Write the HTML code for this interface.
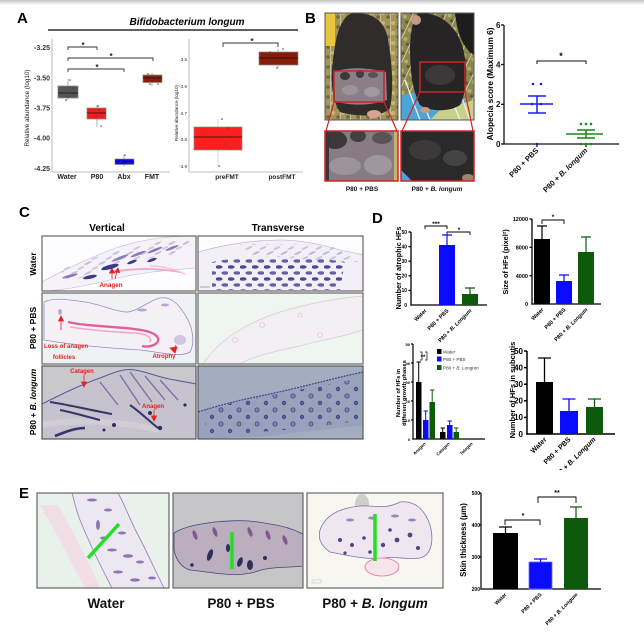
<!DOCTYPE html>
<html><head><meta charset="utf-8"><style>
html,body{margin:0;padding:0;background:#fff;}
svg{display:block;}
text{font-family:"Liberation Sans",Arial,sans-serif;}
</style></head><body>
<svg width="644" height="637" viewBox="0 0 644 637" xmlns="http://www.w3.org/2000/svg">
<defs>
<linearGradient id="topg" x1="0" y1="0" x2="0" y2="1"><stop offset="0" stop-color="#c4c4c4"/><stop offset="1" stop-color="#fff"/></linearGradient>
<clipPath id="cpB1"><rect x="325" y="13" width="73" height="107"/></clipPath>
<clipPath id="cpB2"><rect x="401" y="13" width="73" height="107"/></clipPath>
<clipPath id="cpB3"><rect x="325" y="131" width="73" height="50"/></clipPath>
<clipPath id="cpB4"><rect x="401" y="131" width="73" height="50"/></clipPath>
<clipPath id="c11"><rect x="42" y="236" width="154" height="55"/></clipPath>
<clipPath id="c12"><rect x="198" y="236" width="165" height="55"/></clipPath>
<clipPath id="c21"><rect x="42" y="293" width="154" height="71"/></clipPath>
<clipPath id="c22"><rect x="198" y="293" width="165" height="71"/></clipPath>
<clipPath id="c31"><rect x="42" y="366" width="154" height="73"/></clipPath>
<clipPath id="c32"><rect x="198" y="366" width="165" height="73"/></clipPath>
<clipPath id="e1"><rect x="37" y="493" width="132" height="95"/></clipPath>
<clipPath id="e2"><rect x="173" y="493" width="130" height="95"/></clipPath>
<clipPath id="e3"><rect x="307" y="493" width="136" height="95"/></clipPath>
<pattern id="pf1" width="12" height="12" patternUnits="userSpaceOnUse">
<ellipse cx="3" cy="3" rx="3.6" ry="1.7" fill="#4a4a96"/><ellipse cx="9" cy="9" rx="3.6" ry="1.7" fill="#6a5fa6"/></pattern>
<pattern id="pf1b" width="14" height="10" patternUnits="userSpaceOnUse">
<ellipse cx="4" cy="3" rx="4" ry="1.1" fill="#b4a6d0" transform="rotate(-25 4 3)"/><ellipse cx="11" cy="8" rx="4" ry="1.1" fill="#c4b8da" transform="rotate(-25 11 8)"/></pattern>
<pattern id="pf3" width="18" height="14" patternUnits="userSpaceOnUse">
<circle cx="5" cy="4" r="2.1" fill="#7f87b0" stroke="#3e4080" stroke-width="0.8"/><circle cx="14" cy="11" r="1.8" fill="#5a609a" stroke="#3e4080" stroke-width="0.8"/></pattern>
<pattern id="pcage" width="10" height="10" patternUnits="userSpaceOnUse">
<rect width="10" height="10" fill="#a39557"/><circle cx="3" cy="3" r="2" fill="#c9b86a"/><circle cx="8" cy="7" r="1.8" fill="#6f6a3a"/><line x1="0" y1="0" x2="0" y2="10" stroke="#e4e4dc" stroke-width="1"/></pattern>
<pattern id="pcage2" width="10" height="10" patternUnits="userSpaceOnUse" patternTransform="rotate(25)">
<rect width="10" height="10" fill="#8d8650"/><circle cx="4" cy="4" r="2" fill="#b8ac62"/><circle cx="8" cy="8" r="1.6" fill="#5f5a34"/><line x1="0" y1="0" x2="0" y2="10" stroke="#ecece4" stroke-width="1.3"/></pattern>
</defs>
<rect width="644" height="637" fill="#fff"/>
<rect width="644" height="5" fill="url(#topg)"/>

<!-- ================= PANEL A ================= -->
<text x="17" y="23" font-size="15" font-weight="bold">A</text>
<text x="187" y="25" font-size="10" font-weight="bold" font-style="italic" text-anchor="middle">Bifidobacterium longum</text>
<line x1="48" y1="30" x2="298" y2="30" stroke="#000" stroke-width="1.2"/>

<g stroke="#aaa" stroke-width="0.8" fill="none">
<line x1="52" y1="39" x2="52" y2="172"/><line x1="52" y1="172" x2="170" y2="172"/>
<line x1="189" y1="39" x2="189" y2="172"/><line x1="189" y1="172" x2="303" y2="172"/>
</g>
<g font-size="7" font-weight="bold" fill="#333" text-anchor="end">
<text x="50" y="50">-3.25</text><text x="50" y="80.5">-3.50</text><text x="50" y="110.5">-3.75</text><text x="50" y="140.5">-4.00</text><text x="50" y="171">-4.25</text>
</g>
<text transform="translate(29,108) rotate(-90)" font-size="6.3" fill="#222" text-anchor="middle">Relative abundance (log10)</text>
<g font-size="7" font-weight="bold" fill="#222" text-anchor="middle">
<text x="67" y="179">Water</text><text x="97" y="179">P80</text><text x="124" y="179">Abx</text><text x="152" y="179">FMT</text>
<text x="227" y="179" font-size="6.5">preFMT</text><text x="282" y="179" font-size="6.5">postFMT</text>
</g>
<g stroke="#333" stroke-width="0.9" fill="none">
<path d="M68,50 V47 H97 V50"/><path d="M68,61 V58 H153 V61"/><path d="M68,72 V69 H124 V72"/>
<path d="M223,47 V43 H278 V47"/>
</g>
<g font-size="8" font-weight="bold" text-anchor="middle" fill="#222">
<text x="83" y="48">*</text><text x="111" y="59">*</text><text x="97" y="70">*</text><text x="252" y="44">*</text>
</g>
<g stroke="#888" stroke-width="0.7">
<line x1="68" y1="79" x2="68" y2="100"/>
<rect x="58" y="86" width="20" height="12" fill="#555"/>
<line x1="97" y1="105" x2="97" y2="127"/>
<rect x="87" y="108" width="19" height="11" fill="#f21c1c"/>
<line x1="124" y1="155" x2="124" y2="166"/>
<rect x="115" y="159" width="19" height="5.5" fill="#0a0ae8"/>
<line x1="152" y1="73" x2="152" y2="86"/>
<rect x="143" y="75" width="19" height="7.5" fill="#8a1d08"/>
<line x1="218" y1="119" x2="218" y2="166" stroke="#ccc"/>
<rect x="194" y="127" width="48" height="23" fill="#ff1e1e"/>
<line x1="278" y1="49" x2="278" y2="68"/>
<rect x="259" y="52" width="39" height="13" fill="#861c08"/>
</g>
<g stroke="#111" stroke-width="0.8">
<line x1="58" y1="93" x2="78" y2="93"/><line x1="87" y1="113" x2="106" y2="113"/><line x1="115" y1="161.5" x2="134" y2="161.5"/><line x1="143" y1="78" x2="162" y2="78"/>
<line x1="194" y1="137" x2="242" y2="137"/><line x1="259" y1="58" x2="298" y2="58"/>
</g>
<g fill="#444">
<circle cx="70" cy="80" r="0.8"/><circle cx="73" cy="88" r="0.8"/><circle cx="67" cy="97" r="0.8"/><circle cx="66" cy="100" r="0.8"/>
<circle cx="98" cy="106" r="0.8"/><circle cx="99" cy="110" r="0.8"/><circle cx="96" cy="117" r="0.8"/><circle cx="101" cy="126" r="0.8"/>
<circle cx="125" cy="155" r="0.8"/><circle cx="121" cy="162" r="0.8"/><circle cx="128" cy="163" r="0.8"/>
<circle cx="148" cy="74" r="0.8"/><circle cx="156" cy="77" r="0.8"/><circle cx="150" cy="84" r="0.8"/><circle cx="158" cy="84" r="0.8"/>
<circle cx="222" cy="119" r="0.8"/><circle cx="228" cy="128" r="0.8"/><circle cx="226" cy="144" r="0.8"/><circle cx="219" cy="166" r="0.8"/>
<circle cx="270" cy="52" r="0.8"/><circle cx="283" cy="49" r="0.8"/><circle cx="276" cy="63" r="0.8"/><circle cx="277" cy="68" r="0.8"/>
</g>
<g font-size="4.6" fill="#333" text-anchor="end">
<text x="187" y="61">-3.5</text><text x="187" y="88">-3.6</text><text x="187" y="115">-3.7</text><text x="187" y="141">-3.8</text><text x="187" y="168">-3.9</text>
</g>
<text transform="translate(178,113) rotate(-90)" font-size="4.6" fill="#222" text-anchor="middle">Relative abundance (log10)</text>

<!-- ================= PANEL B ================= -->
<text x="305" y="23" font-size="15" font-weight="bold">B</text>
<g clip-path="url(#cpB1)">
<rect x="325" y="13" width="73" height="107" fill="url(#pcage)"/>
<rect x="325" y="13" width="10" height="33" fill="#e8c63e"/>
<path d="M352,13 C372,12 385,20 388,40 C392,60 394,90 390,108 C385,116 360,118 340,112 C332,100 330,80 333,60 C336,35 340,18 352,13 Z" fill="#2f2c2b"/>
<path d="M334,72 C350,66 370,68 386,72 L387,100 C370,106 350,106 335,101 Z" fill="#8a7f87"/>
<ellipse cx="345" cy="76" rx="5" ry="4" fill="#3d3838"/><ellipse cx="360" cy="74" rx="4" ry="4" fill="#443e3f"/><ellipse cx="373" cy="75" rx="5" ry="3" fill="#5a5255"/>
<ellipse cx="350" cy="90" rx="8" ry="5" fill="#9d939a"/><ellipse cx="372" cy="92" rx="8" ry="5" fill="#a1989e"/>
<ellipse cx="374" cy="114" rx="7" ry="4" fill="#d6a58f"/>
</g>
<rect x="325" y="13" width="73" height="107" fill="none" stroke="#555" stroke-width="1"/>
<rect x="334" y="71" width="50" height="31" fill="none" stroke="#c8262a" stroke-width="1.5"/>
<g clip-path="url(#cpB2)">
<rect x="401" y="13" width="73" height="107" fill="url(#pcage2)"/>
<path d="M401,95 L445,88 L474,105 L474,120 L401,120 Z" fill="#4ea4d6"/>
<path d="M440,110 L474,100 L474,120 L430,120 Z" fill="#c9d08c"/>
<g stroke="#eef0ea" stroke-width="1.3"><line x1="405" y1="80" x2="420" y2="120"/><line x1="414" y1="80" x2="430" y2="120"/><line x1="452" y1="100" x2="460" y2="120"/><line x1="462" y1="98" x2="470" y2="120"/></g>
<path d="M455,13 L474,13 L474,55 C466,50 458,40 455,13 Z" fill="#1e1d1d"/>
<path d="M418,13 C440,12 455,25 462,45 C468,65 468,90 460,105 C450,112 430,112 420,105 C412,90 410,70 410,45 C411,30 413,18 418,13 Z" fill="#262424"/>
<ellipse cx="440" cy="75" rx="15" ry="10" fill="#3a3838"/>
<ellipse cx="416" cy="20" rx="5" ry="5" fill="#c99a80"/>
<ellipse cx="425" cy="110" rx="5" ry="3" fill="#c99a80"/>
</g>
<rect x="401" y="13" width="73" height="107" fill="none" stroke="#555" stroke-width="1"/>
<rect x="420" y="62" width="45" height="30" fill="none" stroke="#c8262a" stroke-width="1.5"/>
<g stroke="#c8262a" stroke-width="1.2"><line x1="334" y1="102" x2="326" y2="131"/><line x1="384" y1="102" x2="397" y2="131"/><line x1="420" y1="92" x2="402" y2="131"/><line x1="465" y1="92" x2="473" y2="131"/></g>
<g clip-path="url(#cpB3)">
<rect x="325" y="131" width="73" height="50" fill="#877c84"/>
<ellipse cx="335" cy="140" rx="12" ry="9" fill="#3d3838"/><ellipse cx="358" cy="136" rx="8" ry="6" fill="#443e40"/><ellipse cx="382" cy="138" rx="10" ry="6" fill="#5a5356"/>
<ellipse cx="345" cy="166" rx="16" ry="9" fill="#9c929a"/><ellipse cx="378" cy="165" rx="14" ry="10" fill="#a0979d"/>
<rect x="325" y="131" width="4" height="50" fill="#3a3535"/><rect x="394" y="131" width="4" height="50" fill="#c7b46a"/>
</g>
<rect x="325" y="131" width="73" height="50" fill="none" stroke="#c8262a" stroke-width="1.5"/>
<g clip-path="url(#cpB4)">
<rect x="401" y="131" width="73" height="50" fill="#2b2a2a"/>
<ellipse cx="425" cy="150" rx="16" ry="10" fill="#3b3939"/><ellipse cx="455" cy="158" rx="12" ry="8" fill="#454242"/>
<path d="M401,170 L412,181 L401,181 Z" fill="#4ea4d6"/>
<ellipse cx="468" cy="178" rx="6" ry="4" fill="#a6806e"/>
</g>
<rect x="401" y="131" width="73" height="50" fill="none" stroke="#c8262a" stroke-width="1.5"/>
<g font-size="6.5" font-weight="bold" text-anchor="middle" fill="#111">
<text x="362" y="191">P80 + PBS</text><text x="437" y="191">P80 + <tspan font-style="italic">B. longum</tspan></text>
</g>
<!-- scatter -->
<g stroke="#111" stroke-width="1.3" fill="none">
<line x1="504" y1="25" x2="504" y2="144.5"/><line x1="504" y1="144" x2="619" y2="144"/>
<line x1="501" y1="25" x2="504" y2="25"/><line x1="501" y1="64.5" x2="504" y2="64.5"/><line x1="501" y1="104.3" x2="504" y2="104.3"/><line x1="501" y1="144" x2="504" y2="144"/>
<line x1="537" y1="144" x2="537" y2="147"/><line x1="586" y1="144" x2="586" y2="147"/>
<path d="M537,64 V61 H586 V64" stroke-width="1"/>
</g>
<text x="561" y="59" font-size="9" font-weight="bold" text-anchor="middle">*</text>
<g font-size="8" font-weight="bold" text-anchor="end" fill="#111">
<text x="500.5" y="28">6</text><text x="500.5" y="67.5">4</text><text x="500.5" y="107">2</text><text x="500.5" y="147">0</text>
</g>
<text transform="translate(493,84) rotate(-90)" font-size="8.4" font-weight="bold" text-anchor="middle">Alopecia score (Maximum 6)</text>
<g stroke="#1a1aff" stroke-width="1.5"><line x1="520" y1="104" x2="553" y2="104"/><line x1="537" y1="96" x2="537" y2="113"/><line x1="528" y1="96" x2="546" y2="96"/><line x1="528" y1="113" x2="546" y2="113"/></g>
<g fill="#1a1aff"><circle cx="533" cy="84" r="1.3"/><circle cx="541" cy="84" r="1.3"/><circle cx="532" cy="104" r="1.3"/><circle cx="541" cy="104" r="1.3"/><circle cx="537" cy="144" r="1.3"/></g>
<g stroke="#158a15" stroke-width="1.5"><line x1="566" y1="134" x2="603" y2="134"/><line x1="586" y1="130" x2="586" y2="138"/><line x1="577" y1="130" x2="595" y2="130"/><line x1="577" y1="138" x2="595" y2="138"/></g>
<g fill="#158a15"><circle cx="581" cy="124" r="1.3"/><circle cx="586" cy="124" r="1.3"/><circle cx="591" cy="124" r="1.3"/><circle cx="581" cy="144" r="1.3"/><circle cx="586" cy="144" r="1.3"/><circle cx="591" cy="144" r="1.3"/></g>
<g font-size="7.6" font-weight="bold" text-anchor="end" fill="#111">
<text transform="translate(539,151) rotate(-45)">P80 + PBS</text>
<text transform="translate(588,151) rotate(-45)">P80 + <tspan font-style="italic">B. longum</tspan></text>
</g>

<!-- ================= PANEL C ================= -->
<text x="19" y="217" font-size="15" font-weight="bold">C</text>
<text x="107" y="231" font-size="10" font-weight="bold" text-anchor="middle">Vertical</text>
<text x="278" y="231" font-size="10" font-weight="bold" text-anchor="middle">Transverse</text>
<g font-size="8.5" font-weight="bold" text-anchor="middle">
<text transform="translate(36,264) rotate(-90)">Water</text>
<text transform="translate(36,328) rotate(-90)">P80 + PBS</text>
<text transform="translate(36,402) rotate(-90)">P80 + <tspan font-style="italic">B. longum</tspan></text>
</g>
<g clip-path="url(#c11)">
<rect x="42" y="236" width="154" height="55" fill="#fdfcfe"/>
<path d="M42,282 C60,272 80,262 110,250 C135,241 160,236 196,236 L196,268 C170,270 140,272 110,280 C85,286 60,291 42,291 Z" fill="#f6f2f9" stroke="#c4b6d8" stroke-width="0.6"/>
<path d="M60,270 C90,258 120,248 170,240 L190,240 L185,252 C150,258 110,266 70,282 Z" fill="url(#pf1b)" opacity="0.7"/>
<g fill="#8a7cb8">
<ellipse cx="120" cy="258" rx="9" ry="1.4" transform="rotate(-22 120 258)"/>
<ellipse cx="138" cy="254" rx="8" ry="1.3" transform="rotate(-22 138 254)"/>
<ellipse cx="155" cy="250" rx="8" ry="1.3" transform="rotate(-22 155 250)"/>
<ellipse cx="172" cy="248" rx="7" ry="1.3" transform="rotate(-22 172 248)"/>
<ellipse cx="70" cy="276" rx="8" ry="1.4" transform="rotate(-15 70 276)"/>
</g>
<g fill="#3a3a8c">
<ellipse cx="90" cy="277" rx="7" ry="1.8" transform="rotate(-12 90 277)"/>
<ellipse cx="110" cy="267" rx="9" ry="2.2" transform="rotate(-15 110 267)"/>
<ellipse cx="132" cy="262" rx="5" ry="1.5" transform="rotate(-20 132 262)"/>
<ellipse cx="152" cy="260" rx="5" ry="1.4" transform="rotate(-20 152 260)"/>
</g>
<path d="M112,272 C135,268 155,268 180,272" stroke="#f2a4c6" stroke-width="1.8" fill="none"/>
<path d="M150,266 C165,266 175,270 185,274" stroke="#f5bcd4" stroke-width="1.3" fill="none"/>
<g fill="#e8201e" stroke="#e8201e" stroke-width="0.8"><line x1="112" y1="279" x2="112" y2="272"/><line x1="115" y1="279" x2="117" y2="271"/><path d="M109.5,273 L112,268.5 L114.5,273 Z"/><path d="M115,272 L118,268 L119.5,272.5 Z"/></g>
<text x="111" y="287" font-size="6.3" font-weight="bold" fill="#e8201e" text-anchor="middle">Anagen</text>
</g>
<rect x="42" y="236" width="154" height="55" fill="none" stroke="#666" stroke-width="1.2"/>
<g clip-path="url(#c12)">
<rect x="198" y="236" width="165" height="55" fill="#fcfbfd"/>
<path d="M198,252 C220,246 250,240 280,240 C300,240 320,244 340,250 C350,252 360,254 363,255 L363,291 L198,291 Z" fill="#f3eff7" stroke="#b8a8d4" stroke-width="0.6"/>
<path d="M240,244 L330,245 L360,262 L340,262 L250,255 Z" fill="url(#pf1b)" opacity="0.8"/>
<path d="M212,262 C240,256 300,254 345,262 L340,290 L212,290 Z" fill="url(#pf1)"/>
<rect x="200" y="286" width="10" height="2" fill="#ccc"/>
</g>
<rect x="198" y="236" width="165" height="55" fill="none" stroke="#666" stroke-width="1.2"/>
<g clip-path="url(#c21)">
<rect x="42" y="293" width="154" height="71" fill="#eef2f4"/>
<path d="M44,302 C55,297 70,300 85,302 C100,304 115,312 128,312 C140,310 150,300 160,298 C172,296 180,305 188,320 C194,332 194,345 190,352 C180,358 160,352 140,350 C110,348 80,346 44,340 Z" fill="#f5f0f5" stroke="#9a8cc0" stroke-width="0.8"/>
<path d="M68,322 C80,325 100,326 125,328 C145,330 155,332 158,338 C160,344 150,348 142,346" stroke="#e0609c" stroke-width="2.4" fill="none"/>
<path d="M70,327 C90,330 110,332 135,333 C148,334 152,338 150,342" stroke="#f0a8c8" stroke-width="1.5" fill="none"/>
<g fill="#b8a8d0"><ellipse cx="60" cy="312" rx="2" ry="3"/><ellipse cx="142" cy="310" rx="5" ry="1.5"/><ellipse cx="165" cy="305" rx="4" ry="1.5"/><ellipse cx="180" cy="340" rx="6" ry="5" opacity="0.6"/></g>
<g fill="#e8201e" stroke="#e8201e" stroke-width="0.8"><line x1="61" y1="330" x2="61" y2="320"/><path d="M58.5,321 L61,316 L63.5,321 Z"/><line x1="176" y1="345" x2="174" y2="350"/><path d="M170,348 L175,353 L177,347 Z"/></g>
<g font-size="6" font-weight="bold" fill="#e8201e" text-anchor="middle"><text x="66" y="348">Loss of anagen</text><text x="64" y="359">follicles</text><text x="164" y="358">Atrophy</text></g>
</g>
<rect x="42" y="293" width="154" height="71" fill="none" stroke="#666" stroke-width="1.2"/>
<g clip-path="url(#c22)">
<rect x="198" y="293" width="165" height="71" fill="#eef6ef"/>
<path d="M203,364 C215,345 240,325 280,312 C310,303 340,298 363,296 L363,330 C340,338 320,340 300,346 C270,352 250,358 240,364 Z" fill="#f4eff2" stroke="#d8c8dc" stroke-width="0.7"/>
<g fill="none" stroke="#d8c4d8" stroke-width="0.6"><circle cx="235" cy="340" r="2.5"/><circle cx="262" cy="325" r="2.5"/><circle cx="300" cy="315" r="2"/><circle cx="320" cy="335" r="2.5"/></g>
</g>
<rect x="198" y="293" width="165" height="71" fill="none" stroke="#666" stroke-width="1.2"/>
<g clip-path="url(#c31)">
<rect x="42" y="366" width="154" height="73" fill="#c9c9cd"/>
<path d="M42,404 C60,395 80,385 100,378 C115,372 125,368 135,370 C148,372 160,378 175,380 C185,382 192,383 196,384 L196,439 L42,439 Z" fill="#c6c2ce" stroke="#58589a" stroke-width="1"/>
<path d="M42,425 C80,418 120,422 160,430" stroke="#d8d2dc" stroke-width="6" fill="none" opacity="0.6"/>
<g stroke="#6a6098" stroke-width="1.4" fill="none" opacity="0.8">
<line x1="120" y1="375" x2="140" y2="405"/><line x1="130" y1="372" x2="152" y2="402"/><line x1="145" y1="376" x2="165" y2="400"/><line x1="160" y1="380" x2="178" y2="400"/><line x1="100" y1="382" x2="118" y2="405"/>
</g>
<g stroke="#35356a" stroke-width="2" fill="none">
<path d="M50,402 C70,405 90,410 112,414"/><path d="M60,410 C75,413 88,417 100,420"/><path d="M130,405 C140,412 148,420 158,428"/>
<path d="M55,436 C65,432 75,428 85,428" stroke-width="2.6"/>
</g>
<g fill="#2e2e60"><circle cx="150" cy="413" r="2"/><circle cx="160" cy="428" r="2.2"/><circle cx="114" cy="425" r="2"/><circle cx="104" cy="430" r="1.5"/><circle cx="185" cy="405" r="1.6"/></g>
<g fill="#e8201e" stroke="#e8201e" stroke-width="0.8"><line x1="84" y1="375" x2="84" y2="383"/><path d="M81.5,382 L84,387 L86.5,382 Z"/><line x1="154" y1="410" x2="154" y2="417"/><path d="M151.5,416 L154,421 L156.5,416 Z"/></g>
<g font-size="6" font-weight="bold" fill="#e8201e" text-anchor="middle"><text x="82" y="373">Catagen</text><text x="153" y="408">Anagen</text></g>
</g>
<rect x="42" y="366" width="154" height="73" fill="none" stroke="#555" stroke-width="1.2"/>
<g clip-path="url(#c32)">
<rect x="198" y="366" width="165" height="73" fill="#a3adc0"/>
<path d="M198,412 C220,405 240,400 260,396 C290,390 320,382 345,376 L363,372 L363,425 C340,428 300,432 270,436 L198,439 Z" fill="#98a2bd"/>
<path d="M198,412 C220,405 240,400 260,396 C290,390 320,382 345,376 L363,372" stroke="#3e4490" stroke-width="1.2" fill="none" stroke-dasharray="2 1"/>
<path d="M205,410 C240,400 300,390 360,378 L360,420 C320,428 260,432 205,436 Z" fill="url(#pf3)"/>
</g>
<rect x="198" y="366" width="165" height="73" fill="none" stroke="#555" stroke-width="1.2"/>

<!-- ================= PANEL D ================= -->
<text x="372" y="223" font-size="15" font-weight="bold">D</text>
<g stroke="#000" stroke-width="1.3" fill="none">
<line x1="411" y1="232" x2="411" y2="305.6"/><line x1="410.4" y1="305" x2="487" y2="305"/>
<line x1="408.5" y1="232" x2="411" y2="232"/><line x1="408.5" y1="246.6" x2="411" y2="246.6"/><line x1="408.5" y1="261.2" x2="411" y2="261.2"/><line x1="408.5" y1="275.8" x2="411" y2="275.8"/><line x1="408.5" y1="290.4" x2="411" y2="290.4"/>
<path d="M425,229 V226 H447 V229" stroke-width="0.9"/><path d="M447,235 V232 H470 V235" stroke-width="0.9"/>
</g>
<g font-size="5" font-weight="bold" text-anchor="end"><text x="407" y="234">50</text><text x="407" y="248.5">40</text><text x="407" y="263">30</text><text x="407" y="277.5">20</text><text x="407" y="292">10</text><text x="407" y="307">0</text></g>
<g font-size="6.5" font-weight="bold" text-anchor="middle"><text x="436" y="226">***</text><text x="459" y="232">*</text></g>
<rect x="439" y="245" width="16" height="60" fill="#0a0aff"/>
<path d="M447,245 V235 M442,235 H452" stroke="#0a0aff" stroke-width="1.2"/>
<rect x="462" y="294" width="16" height="11" fill="#0d5a0d"/>
<path d="M470,294 V288 M465,288 H475" stroke="#0d5a0d" stroke-width="1.2"/>
<text transform="translate(401,268) rotate(-90)" font-size="7.3" font-weight="bold" text-anchor="middle">Number of atrophic HFs</text>
<g font-size="5.5" font-weight="bold" text-anchor="end">
<text transform="translate(427,311) rotate(-45)">Water</text>
<text transform="translate(449,311) rotate(-45)">P80 + PBS</text>
<text transform="translate(472,311) rotate(-45)">P80 + <tspan font-style="italic">B. Longum</tspan></text>
</g>
<g stroke="#000" stroke-width="1.3" fill="none">
<line x1="532" y1="219" x2="532" y2="304.6"/><line x1="531.4" y1="304" x2="601" y2="304"/>
<line x1="529.5" y1="219" x2="532" y2="219"/><line x1="529.5" y1="247.3" x2="532" y2="247.3"/><line x1="529.5" y1="275.7" x2="532" y2="275.7"/>
<path d="M542,224 V220 H564 V224" stroke-width="0.9"/>
</g>
<g font-size="5.5" font-weight="bold" text-anchor="end"><text x="528" y="221">12000</text><text x="528" y="249.5">8000</text><text x="528" y="278">4000</text><text x="528" y="306">0</text></g>
<text x="553" y="219" font-size="6.5" font-weight="bold" text-anchor="middle">*</text>
<rect x="534" y="239" width="16" height="65" fill="#000"/>
<path d="M542,239 V226 M537,226 H547" stroke="#000" stroke-width="1.2"/>
<rect x="556" y="281" width="16" height="23" fill="#0a0aff"/>
<path d="M564,281 V275 M559,275 H569" stroke="#0a0aff" stroke-width="1.2"/>
<rect x="578" y="252" width="16" height="52" fill="#0d5a0d"/>
<path d="M586,252 V237 M581,237 H591" stroke="#0d5a0d" stroke-width="1.2"/>
<text transform="translate(508,262) rotate(-90)" font-size="7.3" font-weight="bold" text-anchor="middle">Size of HFs (pixel²)</text>
<g font-size="5.5" font-weight="bold" text-anchor="end">
<text transform="translate(544,310) rotate(-45)">Water</text>
<text transform="translate(566,310) rotate(-45)">P80 + PBS</text>
<text transform="translate(588,310) rotate(-45)">P80 + <tspan font-style="italic">B. Longum</tspan></text>
</g>
<g stroke="#000" stroke-width="1.2" fill="none">
<line x1="413" y1="344" x2="413" y2="439.6"/><line x1="412.4" y1="439" x2="485" y2="439"/>
<line x1="411" y1="344" x2="413" y2="344"/><line x1="411" y1="363" x2="413" y2="363"/><line x1="411" y1="382" x2="413" y2="382"/><line x1="411" y1="401" x2="413" y2="401"/><line x1="411" y1="420" x2="413" y2="420"/>
<path d="M420,352 H422 V360 H420" stroke-width="0.7"/><path d="M425,352 H427 V360 H425" stroke-width="0.7"/>
</g>
<g font-size="4" font-weight="bold" text-anchor="end"><text x="410" y="346">50</text><text x="410" y="365">40</text><text x="410" y="384">30</text><text x="410" y="403">20</text><text x="410" y="422">10</text><text x="410" y="441">0</text></g>
<text x="423" y="359" font-size="6" font-weight="bold" text-anchor="middle">**</text>
<rect x="416" y="382" width="5.5" height="57" fill="#000"/><path d="M418.7,382 V362 M416.5,362 H421" stroke="#000" stroke-width="1"/>
<rect x="423" y="420" width="5.5" height="19" fill="#0a0aff"/><path d="M425.7,420 V411 M423.5,411 H428" stroke="#0a0aff" stroke-width="1"/>
<rect x="429.5" y="402" width="5.5" height="37" fill="#0d5a0d"/><path d="M432.2,402 V390 M430,390 H434.5" stroke="#0d5a0d" stroke-width="1"/>
<rect x="440" y="432" width="5.5" height="7" fill="#000"/><path d="M442.7,432 V428 M440.5,428 H445" stroke="#000" stroke-width="1"/>
<rect x="447" y="425" width="5.5" height="14" fill="#0a0aff"/><path d="M449.7,425 V421 M447.5,421 H452" stroke="#0a0aff" stroke-width="1"/>
<rect x="453.5" y="432" width="5.5" height="7" fill="#0d5a0d"/><path d="M456.2,432 V428 M454,428 H458.5" stroke="#0d5a0d" stroke-width="1"/>
<rect x="437" y="349" width="4.5" height="5" fill="#000"/><rect x="437" y="356.5" width="4.5" height="5" fill="#0a0aff"/><rect x="437" y="365" width="4.5" height="5" fill="#0d5a0d"/>
<g font-size="4.6" fill="#333"><text x="443" y="353.5" font-style="italic">Water</text><text x="443" y="361">P80 + PBS</text><text x="443" y="369.5">P80 + <tspan font-style="italic">B. Longum</tspan></text></g>
<g font-size="5.8" font-weight="bold" text-anchor="middle">
<text transform="translate(400,393) rotate(-90)">Number of HFs in</text>
<text transform="translate(406,393) rotate(-90)">different growth phases</text>
</g>
<g font-size="4.3" font-weight="bold" text-anchor="end">
<text transform="translate(426,444) rotate(-45)">Anagen</text>
<text transform="translate(450,444) rotate(-45)">Catagen</text>
<text transform="translate(473,444) rotate(-45)">Telogen</text>
</g>
<g stroke="#000" stroke-width="1.5" fill="none">
<line x1="527" y1="351" x2="527" y2="434.7"/><line x1="526.3" y1="434" x2="615" y2="434"/>
<line x1="524" y1="351" x2="527" y2="351"/><line x1="524" y1="367.6" x2="527" y2="367.6"/><line x1="524" y1="384.2" x2="527" y2="384.2"/><line x1="524" y1="400.8" x2="527" y2="400.8"/><line x1="524" y1="417.4" x2="527" y2="417.4"/>
</g>
<g font-size="8" font-weight="bold" text-anchor="end"><text x="523" y="354">50</text><text x="523" y="370.5">40</text><text x="523" y="387">30</text><text x="523" y="403.5">20</text><text x="523" y="420">10</text><text x="523" y="437">0</text></g>
<rect x="536" y="382" width="17" height="52" fill="#000"/><path d="M544.5,382 V358 M538,358 H551" stroke="#000" stroke-width="1.3"/>
<rect x="560" y="411" width="18" height="23" fill="#0a0aff"/><path d="M569,411 V399 M562.5,399 H575.5" stroke="#0a0aff" stroke-width="1.3"/>
<rect x="586" y="407" width="17" height="27" fill="#0d5a0d"/><path d="M594.5,407 V399 M588,399 H601" stroke="#0d5a0d" stroke-width="1.3"/>
<text transform="translate(515,390) rotate(-90)" font-size="7.6" font-weight="bold" text-anchor="middle">Number of HFs in subcutis</text>
<g font-size="7" font-weight="bold" text-anchor="end">
<text transform="translate(547,440) rotate(-45)">Water</text>
<text transform="translate(571,440) rotate(-45)">P80 + PBS</text>
<text transform="translate(596,440) rotate(-45)">P80 + <tspan font-style="italic">B. Longum</tspan></text>
</g>
<rect x="540" y="470" width="60" height="10" fill="#fff"/>

<!-- ================= PANEL E ================= -->
<text x="19" y="498" font-size="15" font-weight="bold">E</text>
<g clip-path="url(#e1)">
<rect x="37" y="493" width="132" height="95" fill="#e8f1ea"/>
<path d="M40,505 C55,530 70,560 85,588 L100,588 C88,560 72,530 58,505 Z" fill="#f1dde6"/>
<path d="M72,493 L118,493 C125,505 130,520 138,535 C146,550 154,568 164,588 L112,588 C100,565 90,545 80,520 C76,510 74,500 72,493 Z" fill="#ede7f1" stroke="#8c7cbc" stroke-width="0.8"/>
<g fill="#8878b4">
<ellipse cx="92" cy="500" rx="5" ry="1.5"/><ellipse cx="108" cy="510" rx="4" ry="1.5"/><ellipse cx="98" cy="525" rx="2" ry="5"/><ellipse cx="104" cy="538" rx="4" ry="1.5"/><ellipse cx="122" cy="533" rx="4" ry="1.5"/><ellipse cx="112" cy="550" rx="5" ry="1.5"/><ellipse cx="128" cy="556" rx="5" ry="1.8"/><ellipse cx="140" cy="562" rx="4" ry="1.5"/><ellipse cx="118" cy="572" rx="5" ry="1.5"/><ellipse cx="135" cy="580" rx="5" ry="1.6"/><ellipse cx="152" cy="578" rx="4" ry="1.5"/>
</g>
<line x1="88" y1="558" x2="119" y2="524" stroke="#22e022" stroke-width="3.5"/>
</g>
<rect x="37" y="493" width="132" height="95" fill="none" stroke="#666" stroke-width="1.2"/>
<g clip-path="url(#e2)">
<rect x="173" y="493" width="130" height="95" fill="#c6c6c8"/>
<path d="M174,533 C185,526 200,524 215,522 C235,520 250,520 270,524 C285,526 295,530 303,534 L303,566 C290,568 270,566 255,572 C235,578 210,572 190,570 C182,568 176,560 174,550 Z" fill="#bbaebf" stroke="#4a4478" stroke-width="0.8"/>
<g fill="#7e5a8c"><ellipse cx="195" cy="535" rx="2" ry="5" transform="rotate(-20 195 535)"/><ellipse cx="215" cy="532" rx="2" ry="5" transform="rotate(-20 215 532)"/><ellipse cx="250" cy="532" rx="2" ry="5" transform="rotate(-20 250 532)"/><ellipse cx="268" cy="535" rx="2" ry="5" transform="rotate(-20 268 535)"/><ellipse cx="285" cy="540" rx="2" ry="5" transform="rotate(-20 285 540)"/></g>
<g fill="#2f2f5a"><ellipse cx="210" cy="555" rx="2.5" ry="6" transform="rotate(20 210 555)"/><ellipse cx="240" cy="562" rx="2.5" ry="5" transform="rotate(20 240 562)"/><ellipse cx="250" cy="565" rx="3" ry="5"/><circle cx="265" cy="558" r="2"/><circle cx="192" cy="565" r="1.8"/><ellipse cx="228" cy="548" rx="2" ry="4"/></g>
<line x1="232" y1="532" x2="232" y2="569" stroke="#22e022" stroke-width="3.5"/>
</g>
<rect x="173" y="493" width="130" height="95" fill="none" stroke="#666" stroke-width="1.2"/>
<g clip-path="url(#e3)">
<rect x="307" y="493" width="136" height="95" fill="#f8f6f1"/>
<ellipse cx="362" cy="504" rx="7" ry="10" fill="#ccd0c8"/>
<path d="M320,530 C325,515 340,508 360,506 C375,505 385,510 400,502 C415,500 425,510 430,525 C434,540 432,555 420,558 C405,560 395,556 385,558 C365,560 345,555 330,552 C320,545 318,538 320,530 Z" fill="#efe6ef" stroke="#7c70b0" stroke-width="0.8"/>
<g fill="#4a4a84"><circle cx="340" cy="540" r="2"/><circle cx="352" cy="545" r="2"/><circle cx="364" cy="538" r="1.8"/><circle cx="383" cy="545" r="2.2"/><circle cx="397" cy="540" r="2.4"/><circle cx="410" cy="535" r="2.4"/><circle cx="390" cy="530" r="1.8"/><circle cx="345" cy="553" r="1.6"/><circle cx="370" cy="552" r="1.8"/><circle cx="418" cy="548" r="2"/></g>
<g fill="#9a88b8"><ellipse cx="350" cy="520" rx="4" ry="1.5"/><ellipse cx="372" cy="518" rx="4" ry="1.5"/><ellipse cx="395" cy="516" rx="4" ry="1.5"/><ellipse cx="412" cy="520" rx="4" ry="1.5"/></g>
<ellipse cx="382" cy="567" rx="17" ry="9" fill="#f8e4ec" stroke="#e07aa0" stroke-width="0.8"/>
<rect x="312" y="580" width="9" height="3" fill="none" stroke="#bbb" stroke-width="0.5"/>
<line x1="375" y1="514" x2="375" y2="561" stroke="#22e022" stroke-width="3.5"/>
</g>
<rect x="307" y="493" width="136" height="95" fill="none" stroke="#666" stroke-width="1.2"/>
<g font-size="13.5" font-weight="bold" text-anchor="middle" fill="#111">
<text x="106" y="608">Water</text><text x="241" y="608">P80 + PBS</text><text x="375" y="608">P80 + <tspan font-style="italic">B. longum</tspan></text>
</g>
<g stroke="#000" stroke-width="1.2" fill="none">
<line x1="481" y1="493" x2="481" y2="589.6"/><line x1="480.4" y1="589" x2="601" y2="589"/>
<line x1="479" y1="493" x2="481" y2="493"/><line x1="479" y1="525" x2="481" y2="525"/><line x1="479" y1="557" x2="481" y2="557"/>
<path d="M505,525 V520 H540 V525" stroke-width="0.9"/><path d="M538,503 V497 H576 V503" stroke-width="0.9"/>
</g>
<g font-size="5" font-weight="bold" text-anchor="end"><text x="480" y="495">500</text><text x="480" y="527">400</text><text x="480" y="559">300</text><text x="480" y="591">200</text></g>
<g font-size="7" font-weight="bold" text-anchor="middle"><text x="523" y="518">*</text><text x="557" y="495">**</text></g>
<rect x="493" y="533" width="25" height="56" fill="#000"/><path d="M505.5,533 V527 M499,527 H512" stroke="#000" stroke-width="1.2"/>
<rect x="529" y="562" width="23" height="27" fill="#0a0aff" stroke="#6a6aff" stroke-width="0.8"/><path d="M540.5,562 V559 M534,559 H547" stroke="#0a0aff" stroke-width="1.2"/>
<rect x="564" y="518" width="24" height="71" fill="#0d5a0d"/><path d="M576,518 V507 M570,507 H582" stroke="#0d5a0d" stroke-width="1.2"/>
<text transform="translate(466,540) rotate(-90)" font-size="7.8" font-weight="bold" text-anchor="middle">Skin thickness (μm)</text>
<g font-size="5.3" font-weight="bold" text-anchor="end">
<text transform="translate(507,595) rotate(-45)">Water</text>
<text transform="translate(542,595) rotate(-45)">P80 + PBS</text>
<text transform="translate(578,595) rotate(-45)">P80 + <tspan font-style="italic">B. Longum</tspan></text>
</g>
</svg>
</body></html>
